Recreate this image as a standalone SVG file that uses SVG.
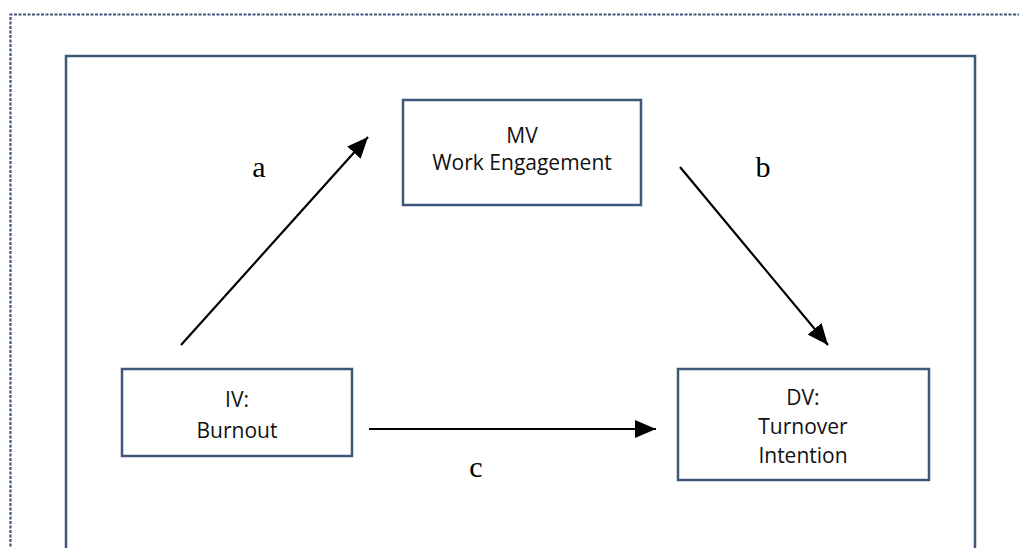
<svg xmlns="http://www.w3.org/2000/svg" width="1019" height="548" viewBox="0 0 1019 548">
<style>
.box{fill:#fff;stroke:#3f5779;stroke-width:2.5}
.t{font-family:"Open Sans",sans-serif;font-size:21px;fill:#111;text-anchor:middle}
.l{font-family:"Liberation Serif",serif;font-size:30px;fill:#000;text-anchor:middle}
.c{stroke:#000;stroke-width:2.2;fill:none;marker-end:url(#ah)}
</style>
<defs>
<marker id="ah" markerUnits="userSpaceOnUse" markerWidth="24" markerHeight="18" refX="21" refY="9" orient="auto">
<path d="M0,0 L21,9 L0,18 Z" fill="#000"/>
</marker>
</defs>
<rect width="1019" height="548" fill="#fff"/>
<path d="M10.5,560 V14.5 H1019" fill="none" stroke="#3f5779" stroke-width="2.2" stroke-dasharray="3,1.5"/>
<rect x="66" y="56" width="909" height="520" fill="none" stroke="#3f5779" stroke-width="2.5"/>
<g id="connectors">
<line class="c" x1="181" y1="345" x2="368" y2="137"/>
<line class="c" x1="680" y1="167" x2="828" y2="345"/>
<line class="c" x1="369" y1="429" x2="656" y2="429"/>
</g>
<g id="label-a"><text class="l" x="259" y="177">a</text></g>
<g id="label-b"><text class="l" x="763" y="177">b</text></g>
<g id="label-c"><text class="l" x="476" y="477">c</text></g>
<g id="mv">
<rect class="box" x="403" y="100" width="238" height="105"/>
<text class="t" x="522" y="143">MV</text>
<text class="t" x="522" y="170">Work Engagement</text>
</g>
<g id="iv">
<rect class="box" x="122" y="369" width="230" height="87"/>
<text class="t" x="237" y="407">IV:</text>
<text class="t" x="237" y="438">Burnout</text>
</g>
<g id="dv">
<rect class="box" x="678" y="369" width="251" height="111"/>
<text class="t" x="803" y="405">DV:</text>
<text class="t" x="803" y="434">Turnover</text>
<text class="t" x="803" y="463">Intention</text>
</g>
</svg>
